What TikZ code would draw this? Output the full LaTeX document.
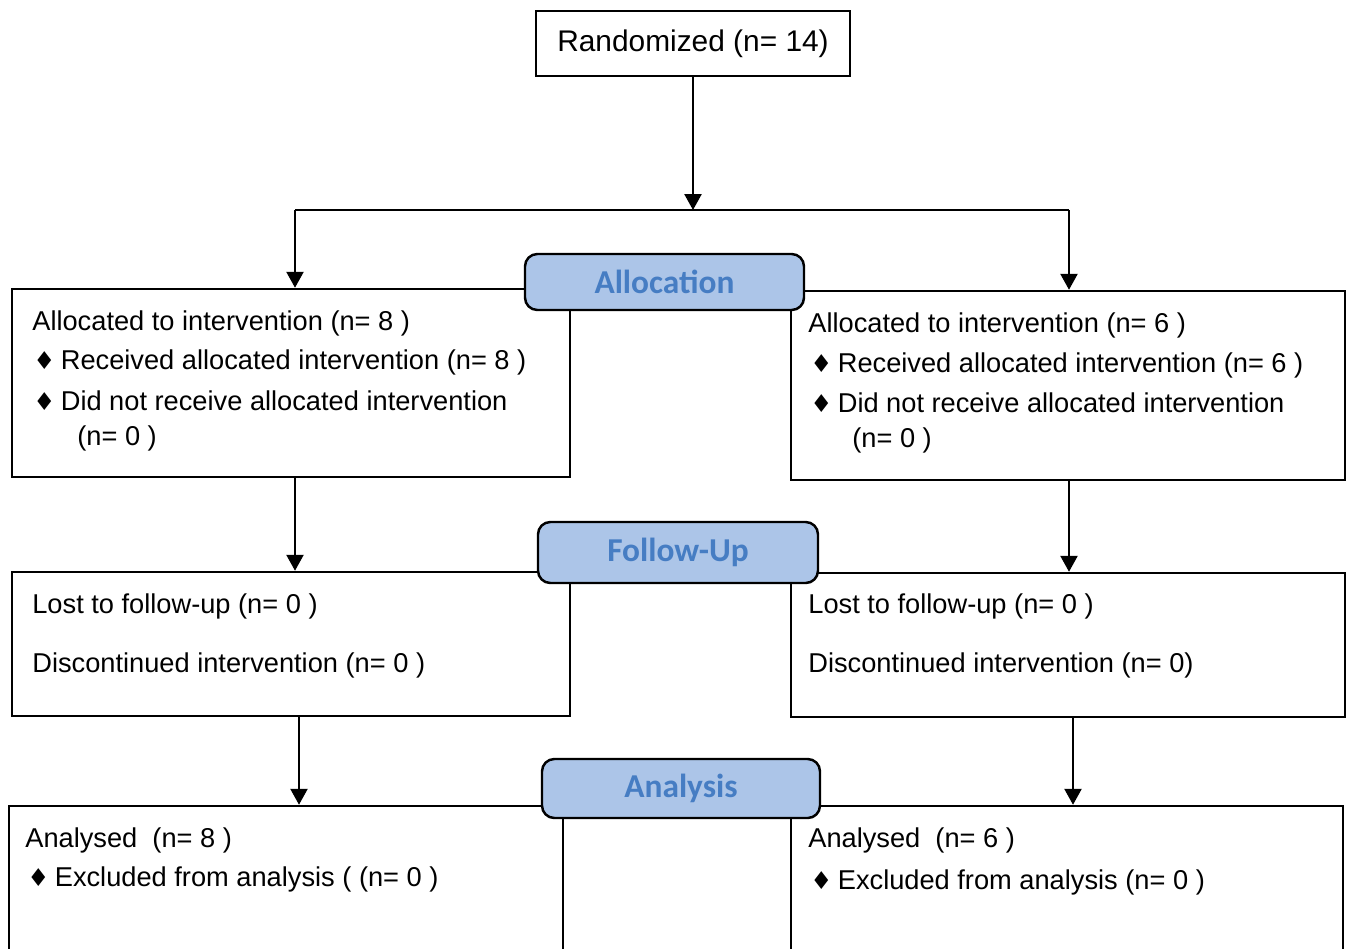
\documentclass[tikz,border=0pt]{standalone}
\usepackage{fontspec}
\setmainfont{Liberation Sans}
\newfontfamily\phasefont{Carlito}
\newfontfamily\symfont{DejaVu Sans}
\usetikzlibrary{arrows.meta,fit}

\definecolor{phasefill}{RGB}{172,197,232}
\definecolor{phasetext}{RGB}{70,125,195}
\newcommand{\bul}{{\symfont\fontsize{14}{14}\selectfont ♦}\hspace{0.2em}}

\tikzset{
    box/.style={draw, line width=1.4pt, inner sep=0pt},
    phase/.style={draw, line width=1.4pt, rounded corners=7pt, fill=phasefill, inner sep=0pt},
    phasetxt/.style={text=phasetext, inner sep=0pt,
        font=\phasefont\bfseries\fontsize{19}{19}\selectfont},
    line/.style={anchor=west, inner sep=0pt, yshift=-0.04cm, font=\fontsize{15.5}{18}\selectfont},
    arr/.style={line width=1.4pt, -{Triangle[length=0.32cm, width=0.34cm]}},
}

\begin{document}
\begin{tikzpicture}[x=0.02cm, y=-0.02cm]
        \path[use as bounding box, clip] (0, 0) rectangle (1346, 948);
        % boxes
        \node[box, fit={(536, 11) (850, 76)},
            label={[inner sep=0pt, font=\fontsize{17}{17}\selectfont]center:Randomized (n= 14)}] (rand) {};
        \node[box, fit={(12, 289) (570, 477)}] (allocL) {};
        \node[box, fit={(791, 291) (1345, 480)}] (allocR) {};
        \node[box, fit={(12, 572) (570, 716)}] (fuL) {};
        \node[box, fit={(791, 573) (1345, 717)}] (fuR) {};
        \node[box, fit={(9, 806) (563, 1000)}] (anL) {};
        \node[box, fit={(791, 806) (1343, 1000)}] (anR) {};
        % texts of the boxes
        \node[line] at (32, 321) {Allocated to intervention (n= 8 )};
        \node[line] at (33, 360) {\bul Received allocated intervention (n= 8 )};
        \node[line] at (33, 399) {\bul Did not receive allocated intervention};
        \node[line] at (77, 436) {(n= 0 )};
        \node[line] at (808, 323) {Allocated to intervention (n= 6 )};
        \node[line] at (810, 363) {\bul Received allocated intervention (n= 6 )};
        \node[line] at (810, 401) {\bul Did not receive allocated intervention};
        \node[line] at (852, 438) {(n= 0 )};
        \node[line] at (32, 604) {Lost to follow-up (n= 0 )};
        \node[line] at (32, 663) {Discontinued intervention (n= 0 )};
        \node[line] at (808, 604) {Lost to follow-up (n= 0 )};
        \node[line] at (808, 663) {Discontinued intervention (n= 0)};
        \node[line] at (25, 838) {Analysed\ \ (n= 8 )};
        \node[line] at (27, 877) {\bul Excluded from analysis ( (n= 0 )};
        \node[line] at (808, 838) {Analysed\ \ (n= 6 )};
        \node[line] at (810, 880) {\bul Excluded from analysis (n= 0 )};
        % arrows
        \coordinate (split) at (693, 210);
        \coordinate (splitL) at (295, 210);
        \coordinate (splitR) at (1069, 210);
        \draw[arr] (rand.south) -- (rand.south |- split);
        \draw[line width=1.4pt] (splitL) -- (splitR);
        \draw[arr] (splitL) -- (splitL |- allocL.north);
        \draw[arr] (splitR) -- (splitR |- allocR.north);
        \draw[arr] (allocL.south -| splitL) -- (splitL |- fuL.north);
        \draw[arr] (allocR.south -| splitR) -- (splitR |- fuR.north);
        \draw[arr] ([xshift=0.16cm]fuL.south) -- ([xshift=0.16cm]fuL.south |- anL.north);
        \draw[arr] ([xshift=0.1cm]fuR.south) -- ([xshift=0.1cm]fuR.south |- anR.north);
        % phase labels
        \node[phase, fit={(525, 254) (804, 310)}, label={[phasetxt]center:Allocation}] (alloc) {};
        \node[phase, fit={(538, 522) (818, 583)}, label={[phasetxt]center:Follow-Up}] (follow) {};
        \node[phase, fit={(542, 759) (820, 818)}, label={[phasetxt]center:Analysis}] (anal) {};
    \end{tikzpicture}
\end{document}
